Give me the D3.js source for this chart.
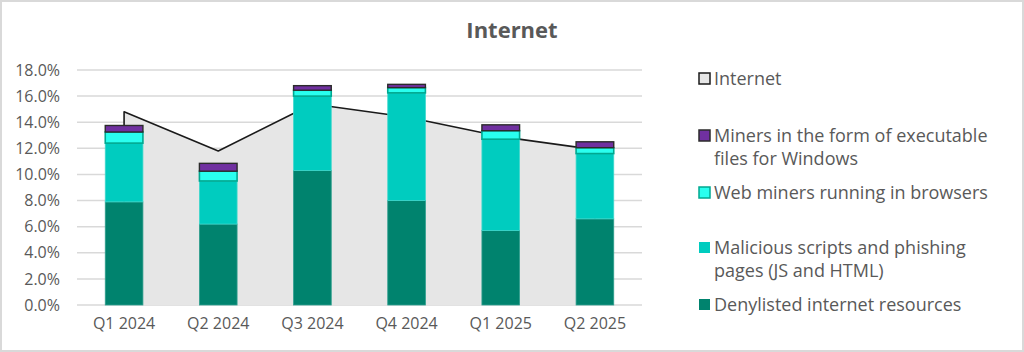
<!DOCTYPE html>
<html>
<head>
<meta charset="utf-8">
<script src="https://cdn.jsdelivr.net/npm/d3@7"></script>
<style>
html,body{margin:0;padding:0;background:#fff;}
svg{display:block;font-family:"Open Sans",sans-serif;}
</style>
</head>
<body>
<svg id="chart" width="1024" height="352"></svg>
<script>
const categories = ["Q1 2024","Q2 2024","Q3 2024","Q4 2024","Q1 2025","Q2 2025"];
const denylisted = [7.9, 6.2, 10.3, 8.0, 5.7, 6.6];
const malicious = [4.5, 3.3, 5.7, 8.25, 7.0, 5.0];
const webMiners = [0.85, 0.75, 0.45, 0.4, 0.65, 0.45];
const winMiners = [0.5, 0.6, 0.35, 0.25, 0.45, 0.45];
const internet = [14.8, 11.8, 15.4, 14.4, 12.9, 11.9];
const yTicks = [0, 2, 4, 6, 8, 10, 12, 14, 16, 18];
const legendLabels = [
  ["Internet"],
  ["Miners in the form of executable", "files for Windows"],
  ["Web miners running in browsers"],
  ["Malicious scripts and phishing", "pages (JS and HTML)"],
  ["Denylisted internet resources"]
];

const svg = d3.select("#chart");
const W = 1024, H = 352;
const textColor = "#595959";
const FONT = "'Open Sans', sans-serif";

svg.append("rect").attr("x",1).attr("y",1).attr("width",W-2).attr("height",H-2)
  .attr("fill","#fff").attr("stroke","#d9d9d9").attr("stroke-width",2);

const x = d3.scaleBand().domain(categories).range([77, 642]).paddingInner(0.6).paddingOuter(0.3);
const y = d3.scaleLinear().domain([0, 18]).range([305, 70]);

// gridlines
svg.append("g").selectAll("line").data(yTicks).join("line")
  .attr("x1", 77).attr("x2", 642)
  .attr("y1", d => y(d)).attr("y2", d => y(d))
  .attr("stroke", "#d9d9d9").attr("stroke-width", 1.5);

// y axis labels
const yAxis = d3.axisLeft(y).tickValues(yTicks).tickFormat(d => d.toFixed(1) + "%").tickSize(0).tickPadding(0);
const yg = svg.append("g").attr("transform", "translate(60,0)").call(yAxis);
yg.select(".domain").remove();
yg.selectAll("text").attr("fill", textColor).style("font-size", "16px").style("font-family", FONT);

// x axis labels
const xAxis = d3.axisBottom(x).tickSize(0).tickPadding(0);
const xg = svg.append("g").attr("transform", "translate(0,318)").call(xAxis);
xg.select(".domain").remove();
xg.selectAll("text").attr("fill", textColor).style("font-size", "16px").style("font-family", FONT);

// area (Internet)
const cx = d => x(d) + x.bandwidth() / 2;
const pts = categories.map((c, i) => [cx(c), internet[i]]);
const area = d3.area().x(d => d[0]).y0(y(0)).y1(d => y(d[1]));
svg.append("path").datum(pts).attr("d", area).attr("fill", "#e6e6e6");
const outline = [[pts[0][0], 0], ...pts, [pts[pts.length-1][0], 0]];
const line = d3.line().x(d => d[0]).y(d => y(d[1]));
svg.append("path").datum(outline).attr("d", line).attr("fill", "none")
  .attr("stroke", "#1a1a1a").attr("stroke-width", 1.6).attr("stroke-linejoin", "round");

// stacked bars
const table = categories.map((c, i) => ({cat: c, den: denylisted[i], mal: malicious[i], web: webMiners[i], win: winMiners[i]}));
const stack = d3.stack().keys(["den", "mal", "web", "win"]);
const stacked = stack(table);
const fills = {den: "#00836e", mal: "#00ccbf", web: "#29ffef", win: "#7030a0"};
const strokes = {den: "#2f9e8e", mal: "#3fd8cc", web: "#00a890", win: "#2b2b2b"};
const sw = {den: 0.8, mal: 0.8, web: 1.6, win: 1.4};
stacked.forEach(s => {
  svg.append("g").selectAll("rect").data(s).join("rect")
    .attr("x", d => x(d.data.cat))
    .attr("width", x.bandwidth())
    .attr("y", d => y(d[1]))
    .attr("height", d => y(d[0]) - y(d[1]))
    .attr("fill", fills[s.key])
    .attr("stroke", strokes[s.key]).attr("stroke-width", sw[s.key]);
});

// title
svg.append("text").attr("x", 512).attr("y", 38).attr("text-anchor", "middle")
  .attr("fill", textColor).style("font-size", "22px").style("font-weight", "bold").style("font-family", FONT).text("Internet");

// legend
const legendY = [79, 136, 193, 248, 305];
const legendSwatch = [
  {fill: "#e6e6e6", stroke: "#1a1a1a", sw: 1.5},
  {fill: "#7030a0", stroke: "#2b2b2b", sw: 1.5},
  {fill: "#29ffef", stroke: "#00a890", sw: 1.5},
  {fill: "#00ccbf", stroke: "none", sw: 0},
  {fill: "#00836e", stroke: "none", sw: 0}
];
const lg = svg.append("g");
legendLabels.forEach((lines, i) => {
  const g = lg.append("g");
  const s = legendSwatch[i];
  g.append("rect").attr("x", 699).attr("y", legendY[i] - 6).attr("width", 11).attr("height", 11)
    .attr("fill", s.fill).attr("stroke", s.stroke).attr("stroke-width", s.sw);
  lines.forEach((t, j) => {
    g.append("text").attr("x", 714).attr("y", legendY[i] + j * 23).attr("dy", "0.35em")
      .attr("fill", textColor).style("font-size", "18px").style("font-family", FONT).text(t);
  });
});
</script>
</body>
</html>
